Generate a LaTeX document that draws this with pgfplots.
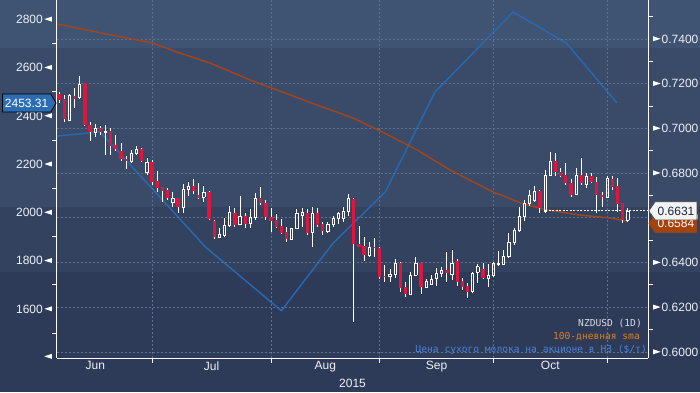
\documentclass[border=0pt]{standalone}
\usepackage{fontspec}
\setmainfont{Liberation Sans}
\newfontfamily\monofont{DejaVu Sans Mono}
\usepackage{pgfplots}
\pgfplotsset{compat=1.18}
\usepackage{pgfplotstable}
\usetikzlibrary{shapes.symbols}

\definecolor{bgA}{HTML}{3F5373}
\definecolor{bgB}{HTML}{3A4A69}
\definecolor{bgC}{HTML}{33435F}
\definecolor{bgD}{HTML}{2D3B58}
\definecolor{gridc}{HTML}{5A7190}
\definecolor{candred}{HTML}{DE163E}
\definecolor{dairy}{HTML}{2A68B0}
\definecolor{sma}{HTML}{A54419}
\definecolor{lbl}{HTML}{EEF1F6}
\definecolor{callblue}{HTML}{2B6CB2}
\definecolor{callsma}{HTML}{A6420E}
\definecolor{callw}{HTML}{F4F4F2}
\definecolor{navytext}{HTML}{15253F}
\definecolor{legw}{HTML}{D5DAE3}
\definecolor{lego}{HTML}{E0801E}
\definecolor{legb}{HTML}{4D82D6}

\newcommand{\ltri}{\tikz[baseline=0pt]\fill[white] (0pt,4.3pt) -- (7.5pt,6.8pt) -- (7.5pt,1.8pt) -- cycle;}
\newcommand{\rtri}{\tikz[baseline=0pt]\fill[white] (7.5pt,4.3pt) -- (0pt,6.8pt) -- (0pt,1.8pt) -- cycle;}

% NZDUSD daily candles (x = trading day, Jul 1 = 0)
\pgfplotstableread{
x top bot hi lo
-18 0.7154 0.7127 0.7164 0.7112
-17 0.7130 0.7042 0.7149 0.7027
-15 0.7145 0.7133 0.7179 0.7090
-13 0.7201 0.7015 0.7201 0.7010
-12 0.7015 0.6982 0.7030 0.6945
-10 0.7001 0.6984 0.7010 0.6970
-8 0.6988 0.6922 0.7000 0.6881
-7 0.6924 0.6906 0.6970 0.6899
-6 0.6899 0.6861 0.6933 0.6855
-5 0.6863 0.6854 0.6878 0.6817
-2 0.6908 0.6855 0.6911 0.6851
0 0.6851 0.6761 0.6858 0.6746
1 0.6764 0.6732 0.6809 0.6717
2 0.6736 0.6721 0.6739 0.6669
3 0.6724 0.6687 0.6734 0.6680
5 0.6687 0.6649 0.6690 0.6623
8 0.6741 0.6721 0.6772 0.6706
9 0.6702 0.6690 0.6754 0.6683
11 0.6714 0.6594 0.6721 0.6590
12 0.6587 0.6513 0.6590 0.6504
16 0.6623 0.6568 0.6645 0.6560
18 0.6608 0.6572 0.6623 0.6553
21 0.6687 0.6665 0.6736 0.6657
22 0.6665 0.6602 0.6679 0.6590
23 0.6605 0.6587 0.6642 0.6538
24 0.6590 0.6560 0.6615 0.6556
25 0.6563 0.6530 0.6593 0.6526
26 0.6538 0.6505 0.6560 0.6493
30 0.6620 0.6533 0.6638 0.6523
32 0.6620 0.6568 0.6642 0.6560
33 0.6572 0.6541 0.6582 0.6523
39 0.6684 0.6481 0.6687 0.6135
40 0.6481 0.6471 0.6565 0.6471
41 0.6474 0.6433 0.6515 0.6407
43 0.6471 0.6463 0.6508 0.6426
44 0.6463 0.6336 0.6471 0.6326
45 0.6341 0.6336 0.6389 0.6314
48 0.6399 0.6284 0.6403 0.6269
49 0.6292 0.6258 0.6314 0.6247
52 0.6396 0.6289 0.6399 0.6258
57 0.6366 0.6351 0.6445 0.6314
59 0.6407 0.6314 0.6414 0.6296
60 0.6317 0.6292 0.6332 0.6277
61 0.6296 0.6269 0.6307 0.6240
64 0.6369 0.6329 0.6399 0.6325
75 0.6720 0.6642 0.6724 0.6623
78 0.6854 0.6806 0.6891 0.6787
79 0.6806 0.6788 0.6821 0.6784
80 0.6791 0.6754 0.6844 0.6747
81 0.6757 0.6702 0.6772 0.6694
83 0.6791 0.6754 0.6866 0.6747
85 0.6787 0.6761 0.6799 0.6754
86 0.6761 0.6702 0.6781 0.6623
87 0.6702 0.6691 0.6717 0.6649
89 0.6772 0.6739 0.6787 0.6724
90 0.6742 0.6661 0.6779 0.6624
91 0.6665 0.6590 0.6665 0.6575
}\redc

\pgfplotstableread{
x top bot hi lo
-16 0.7145 0.7037 0.7154 0.7033
-14 0.7198 0.7136 0.7234 0.7130
-11 0.6998 0.6980 0.7019 0.6963
-9 0.6988 0.6982 0.7015 0.6881
-4 0.6888 0.6852 0.6903 0.6846
-3 0.6906 0.6888 0.6922 0.6881
-1 0.6848 0.6803 0.6866 0.6791
4 0.6687 0.6667 0.6714 0.6649
6 0.6729 0.6647 0.6750 0.6623
7 0.6742 0.6727 0.6759 0.6699
10 0.6714 0.6691 0.6743 0.6672
13 0.6526 0.6513 0.6553 0.6513
14 0.6568 0.6520 0.6598 0.6515
15 0.6623 0.6564 0.6653 0.6560
17 0.6608 0.6571 0.6697 0.6568
19 0.6600 0.6575 0.6639 0.6556
20 0.6687 0.6602 0.6709 0.6590
27 0.6553 0.6505 0.6556 0.6504
28 0.6620 0.6553 0.6639 0.6550
29 0.6623 0.6611 0.6642 0.6560
31 0.6620 0.6535 0.6649 0.6470
34 0.6571 0.6541 0.6582 0.6530
35 0.6597 0.6571 0.6608 0.6560
36 0.6620 0.6597 0.6624 0.6572
37 0.6627 0.6597 0.6649 0.6582
38 0.6687 0.6630 0.6705 0.6609
42 0.6468 0.6433 0.6493 0.6426
46 0.6348 0.6336 0.6371 0.6314
47 0.6396 0.6347 0.6415 0.6332
50 0.6344 0.6258 0.6356 0.6255
51 0.6396 0.6344 0.6426 0.6341
53 0.6317 0.6289 0.6325 0.6284
54 0.6326 0.6302 0.6344 0.6299
55 0.6351 0.6329 0.6374 0.6295
56 0.6366 0.6351 0.6381 0.6336
58 0.6396 0.6345 0.6456 0.6322
62 0.6351 0.6269 0.6356 0.6265
63 0.6381 0.6356 0.6392 0.6307
65 0.6344 0.6329 0.6392 0.6292
66 0.6396 0.6341 0.6401 0.6336
67 0.6396 0.6392 0.6451 0.6384
68 0.6429 0.6393 0.6456 0.6389
69 0.6490 0.6426 0.6530 0.6419
70 0.6545 0.6490 0.6553 0.6478
71 0.6605 0.6542 0.6649 0.6538
72 0.6665 0.6605 0.6679 0.6587
73 0.6702 0.6665 0.6724 0.6653
74 0.6720 0.6677 0.6742 0.6672
76 0.6791 0.6627 0.6814 0.6623
77 0.6851 0.6791 0.6896 0.6787
82 0.6791 0.6705 0.6821 0.6702
84 0.6787 0.6750 0.6802 0.6734
88 0.6776 0.6691 0.6787 0.6687
92 0.6630 0.6590 0.6642 0.6582
}\whitec

\pgfplotsset{
  common/.style={
    width=591pt, height=358pt, scale only axis,
    at={(0pt,0pt)}, anchor=south west,
    xmin=-18.4, xmax=95.9,
    /pgf/number format/assume math mode=true,
    axis line style={white, line width=1pt},
    tick style={white, line width=0.9pt},
    tick align=outside,
    major tick length=5pt, minor tick length=5pt,
    ticklabel style={font=\fontsize{12}{14}\selectfont, text=lbl},
  },
  eb/.style={draw=none, mark=none, forget plot,
    error bars/error mark=none},
  wick/.style={eb,
    error bars/error bar style={draw=white, line width=0.9pt}},
}

\begin{document}
\begin{tikzpicture}
\useasboundingbox (-57pt,-34pt) rectangle (643pt,358pt);
\fill[bgD] (-57pt,-34pt) rectangle (643pt,86pt);
\fill[bgC] (-57pt,86pt) rectangle (643pt,151pt);
\fill[bgB] (-57pt,151pt) rectangle (643pt,310pt);
\fill[bgA] (-57pt,310pt) rectangle (643pt,358pt);

% left axis: dairy price
\begin{axis}[common,
  ymin=1397, ymax=2880,
  axis x line=none, axis y line*=left,
  xtick=\empty,
  ytick={1600,1800,2000,2200,2400,2600,2800},
  minor ytick={1500,1700,1900,2100,2300,2500,2700},
  major y tick style={draw=none},
  yticklabel={\pgfmathprintnumber[1000 sep={}]{\tick}\hspace{1.5pt}\ltri},
  yticklabel style={anchor=east, inner xsep=0pt},
  extra y ticks={1400},
  extra y tick style={yticklabel={\ltri}},
]
\addplot[dairy, line width=1.4pt] coordinates {
(-21.1,2310) (-10.1,2334) (0,2099) (10.3,1857) (25,1593) (35,1873)
(45.1,2085) (54.7,2499) (69.8,2830) (80.1,2702) (89.9,2453.31)};
\coordinate (cDairy) at (axis cs:-18.4,2453.31);
\end{axis}

% right axis: NZDUSD
\begin{axis}[common,
  ymin=0.5973, ymax=0.7574,
  axis x line*=bottom, axis y line*=right,
  xtick={0,23,44,66,88}, xticklabels={},
  extra x ticks={-11,11.5,33.5,55,77},
  extra x tick labels={Jun,Jul,Aug,Sep,Oct},
  extra x tick style={grid=none, major tick length=0pt},
  xmajorgrids, ymajorgrids,
  grid style={gridc, dash pattern=on 2pt off 2pt, line width=0.7pt},
  ytick={0.60,0.62,0.64,0.66,0.68,0.70,0.72,0.74},
  minor ytick={0.61,0.63,0.65,0.67,0.69,0.71,0.73,0.75},
  major y tick style={draw=none},
  yticklabel={\rtri\hspace{1pt}\pgfmathprintnumber[fixed,fixed zerofill,precision=4]{\tick}},
  yticklabel style={anchor=west, inner xsep=0pt},
  xlabel={2015},
  xlabel style={font=\fontsize{12}{14}\selectfont, text=lbl, yshift=5pt},
]
\addplot[sma, line width=1.4pt] coordinates {
(-18.4,0.7467) (-12,0.7437) (-7.7,0.7417) (0,0.7382) (5,0.7340) (11.2,0.7292)
(19,0.7216) (25,0.7164) (30.9,0.7113) (38.9,0.7046) (44.9,0.6979) (51.3,0.6903)
(57.6,0.6814) (62,0.6762) (66,0.6715) (71.8,0.6662) (76.4,0.6635) (82.8,0.6612)
(88.6,0.6599) (91.9,0.6585)};
\addplot[white, line width=1pt, dash pattern=on 2pt off 1.5pt] coordinates {(76,0.6631) (95.9,0.6631)};

% wicks
\addplot[wick, error bars/y dir=plus, error bars/y explicit] table[x=x, y=top, y error plus expr=\thisrow{hi}-\thisrow{top}] {\redc};
\addplot[wick, error bars/y dir=minus, error bars/y explicit] table[x=x, y=bot, y error minus expr=\thisrow{bot}-\thisrow{lo}] {\redc};
\addplot[wick, error bars/y dir=plus, error bars/y explicit] table[x=x, y=top, y error plus expr=\thisrow{hi}-\thisrow{top}] {\whitec};
\addplot[wick, error bars/y dir=minus, error bars/y explicit] table[x=x, y=bot, y error minus expr=\thisrow{bot}-\thisrow{lo}] {\whitec};
% red bodies
\addplot[eb, error bars/y dir=minus, error bars/y explicit,
  error bars/error bar style={draw=candred, line width=3.3pt}] table[x=x, y=top, y error minus expr=\thisrow{top}-\thisrow{bot}] {\redc};
% white hollow bodies
\addplot[wick, error bars/y dir=minus, error bars/y explicit] table[x expr=\thisrow{x}-0.22, y=top, y error minus expr=\thisrow{top}-\thisrow{bot}] {\whitec};
\addplot[wick, error bars/y dir=minus, error bars/y explicit] table[x expr=\thisrow{x}+0.22, y=top, y error minus expr=\thisrow{top}-\thisrow{bot}] {\whitec};
\addplot[eb, error bars/x dir=both, error bars/x explicit,
  error bars/error bar style={draw=white, line width=0.9pt, line cap=rect}] table[x=x, y=top, x error expr=0.22] {\whitec};
\addplot[eb, error bars/x dir=both, error bars/x explicit,
  error bars/error bar style={draw=white, line width=0.9pt, line cap=rect}] table[x=x, y=bot, x error expr=0.22] {\whitec};

\coordinate (cLast) at (axis cs:95.9,0.6631);
\coordinate (cSma) at (axis cs:95.9,0.6584);
\end{axis}

% value callouts
\node[signal, signal to=east, signal pointer angle=120, fill=callblue, draw=black, line width=0.8pt,
  text=white, inner xsep=2.5pt, inner ysep=3pt, minimum height=18pt, anchor=east, font=\fontsize{12}{14}\selectfont]
  at ([xshift=-0.5pt]cDairy) {2453.31};
\node[signal, signal to=west, signal pointer angle=110, fill=callsma, draw=callsma,
  text=white, inner xsep=2.5pt, inner ysep=3pt, minimum height=18pt, anchor=west, font=\fontsize{12}{14}\selectfont]
  at ([xshift=0.5pt,yshift=-2pt]cSma) {0.6584};
\node[signal, signal to=west, signal pointer angle=110, fill=callw, draw=black!70, line width=0.6pt,
  text=navytext, inner xsep=2.5pt, inner ysep=3pt, minimum height=18pt, anchor=west, font=\fontsize{12}{14}\selectfont]
  at ([xshift=0.5pt]cLast) {0.6631};

% legend text
\node[anchor=east, inner sep=0pt, text=legw, font=\monofont\fontsize{9.6}{11}\selectfont] at (585pt,35pt) {NZDUSD (1D)};
\node[anchor=east, inner sep=0pt, text=lego, font=\monofont\fontsize{9.6}{11}\selectfont] at (583pt,21pt) {100-дневная sma};
\node[anchor=east, inner sep=0pt, text=legb, font=\monofont\fontsize{9.6}{11}\selectfont] at (590pt,8pt) {Цена сухого молока на акционе в НЗ (\$/т)};
\end{tikzpicture}
\end{document}
